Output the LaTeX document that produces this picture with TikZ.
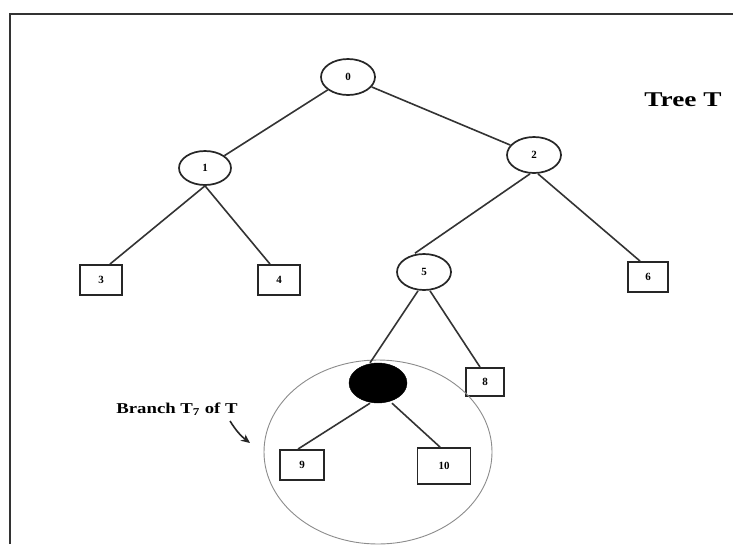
\documentclass[tikz,border=0pt]{standalone}
\usepackage{fontspec}
\setmainfont{Liberation Serif}
\usetikzlibrary{shapes.geometric,arrows.meta}
\begin{document}
\begin{tikzpicture}[x=1pt,y=-1pt,
  inner/.style={ellipse,draw=black!85,line width=1.7pt,minimum width=54pt,minimum height=36pt,inner sep=0pt,font=\bfseries\fontsize{11}{11}\selectfont},
  leaf/.style={rectangle,draw=black!85,line width=1.9pt,minimum width=42pt,minimum height=30pt,inner sep=0pt,font=\bfseries\fontsize{11}{11}\selectfont},
  edge/.style={draw=black!80,line width=1.6pt},
  lbl/.style={font=\bfseries\fontsize{15}{15}\selectfont}]
\useasboundingbox (0,0) rectangle (733,544);
\fill[white] (0,0) rectangle (733,544);
% frame
\coordinate (fa) at (10,544);
\coordinate (fb) at (10,14);
\coordinate (fc) at (733,14);
\draw[black!80,line width=1.8pt] (fa) -- (fb) -- (fc);
% nodes
\node[inner] (n0) at (348,77) {0};
\node[inner,minimum width=52pt,minimum height=34pt] (n1) at (205,168) {1};
\node[inner] (n2) at (534,155) {2};
\node[leaf] (n3) at (101,280) {3};
\node[leaf] (n4) at (279,280) {4};
\node[inner] (n5) at (424,272) {5};
\node[leaf,minimum width=40pt] (n6) at (648,277) {6};
\node[ellipse,fill=black,draw=black,minimum width=58pt,minimum height=40pt,inner sep=0pt] (n7) at (378,383) {};
\node[leaf,minimum width=38pt,minimum height=28pt] (n8) at (485,382) {8};
\node[leaf,minimum width=44pt] (n9) at (302,465) {9};
\node[leaf,minimum width=53pt,minimum height=36pt] (n10) at (444,466) {10};
% branch circle
\node[ellipse,draw=black!45,line width=0.9pt,minimum width=228pt,minimum height=184pt] (br) at (378,452) {};
% edges
\draw[edge] (n0) -- (n1);
\draw[edge] (n0) -- (n2);
\draw[edge] (n1.south) -- ([xshift=9pt]n3.north);
\draw[edge] (n1.south) -- ([xshift=-9pt]n4.north);
\draw[edge] ([xshift=-4pt]n2.south) -- ([xshift=-9pt]n5.north);
\draw[edge] ([xshift=4pt]n2.south) -- ([xshift=-8pt]n6.north);
\draw[edge] ([xshift=-6pt]n5.south) -- ([xshift=-8pt]n7.north);
\draw[edge] ([xshift=6pt]n5.south) -- ([xshift=-5pt]n8.north);
\draw[edge] ([xshift=-8pt]n7.south) -- ([xshift=-4pt]n9.north);
\draw[edge] ([xshift=14pt]n7.south) -- ([xshift=-4pt]n10.north);
% labels
\node[font=\bfseries\fontsize{21}{21}\selectfont,xscale=1.3,transform shape] (tt) at (683,100) {Tree T};
\node[lbl,xscale=1.25,transform shape] (bl) at (177,409) {Branch T\textsubscript{7} of T};
\coordinate (ae) at (250,443);
\draw[black!85,line width=1.6pt,-{Stealth[length=9pt,width=8pt]}] (230,421) to[bend right=10] (ae);
\end{tikzpicture}
\end{document}
